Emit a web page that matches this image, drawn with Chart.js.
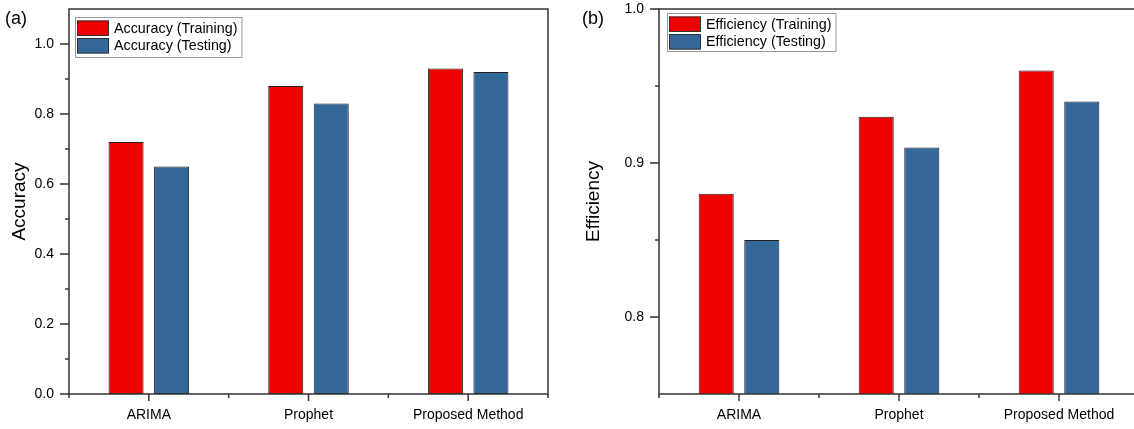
<!DOCTYPE html>
<html>
<head>
<meta charset="utf-8">
<script src="https://cdn.jsdelivr.net/npm/chart.js@4"></script>
<style>
  html, body { margin: 0; padding: 0; background: #fff; overflow: hidden; }
  #wrap { position: relative; width: 1134px; height: 429px; overflow: hidden; }
  canvas { position: absolute; top: 0; }
  #chartA { left: 0; }
  #chartB { left: 567px; }
</style>
</head>
<body>
<div id="wrap">
  <canvas id="chartA" width="567" height="429"></canvas>
  <canvas id="chartB" width="580" height="429"></canvas>
</div>
<script>
var categories = ['ARIMA', 'Prophet', 'Proposed Method'];

var accuracyTraining = [0.72, 0.88, 0.93];
var accuracyTesting = [0.65, 0.83, 0.92];
var efficiencyTraining = [0.88, 0.93, 0.96];
var efficiencyTesting = [0.85, 0.91, 0.94];

var accuracyTicks = [0.0, 0.2, 0.4, 0.6, 0.8, 1.0];
var accuracyMinor = [0.1, 0.3, 0.5, 0.7, 0.9];
var efficiencyTicks = [0.8, 0.9, 1.0];
var efficiencyMinor = [0.85, 0.95];

var RED = '#ee0000';
var BLUE = '#336699';
var FONT = '"Liberation Sans", Arial, sans-serif';

Chart.defaults.font.family = FONT;
Chart.defaults.color = '#000';

// axes frame, tick marks, panel letter and in-plot legend
var framePlugin = {
  id: 'frame',
  afterDraw: function(chart, args, opts) {
    var ctx = chart.ctx, a = chart.chartArea;
    var xs = chart.scales.x, ys = chart.scales.y;
    ctx.save();
    ctx.strokeStyle = '#333';
    ctx.lineWidth = 1.5;
    ctx.strokeRect(a.left, a.top, a.right - a.left, a.bottom - a.top);

    ctx.beginPath();
    opts.major.forEach(function(v) {
      var p = ys.getPixelForValue(v);
      ctx.moveTo(a.left - 9, p); ctx.lineTo(a.left, p);
    });
    opts.minor.forEach(function(v) {
      var p = ys.getPixelForValue(v);
      ctx.moveTo(a.left - 4, p); ctx.lineTo(a.left, p);
    });
    for (var i = 0; i < categories.length; i++) {
      var c = xs.getPixelForValue(i);
      ctx.moveTo(c, a.bottom); ctx.lineTo(c, a.bottom + 7);
    }
    for (var j = 0; j <= categories.length; j++) {
      var b = xs.getPixelForValue(j - 0.5);
      ctx.moveTo(b, a.bottom); ctx.lineTo(b, a.bottom + 4);
    }
    ctx.stroke();

    // panel letter
    ctx.fillStyle = '#000';
    ctx.font = '18px ' + FONT;
    ctx.textBaseline = 'alphabetic';
    ctx.textAlign = 'left';
    ctx.fillText(opts.letter, opts.letterX, 24);

    // legend
    var lg = opts.legend;
    ctx.font = '14.3px ' + FONT;
    var tw = 0;
    chart.data.datasets.forEach(function(ds) {
      tw = Math.max(tw, ctx.measureText(ds.label).width);
    });
    var w = 39 + tw + 4;
    ctx.strokeStyle = '#999';
    ctx.lineWidth = 1;
    ctx.strokeRect(lg.x + 0.5, lg.y + 0.5, w, lg.h);
    ctx.textBaseline = 'middle';
    chart.data.datasets.forEach(function(ds, k) {
      var ry = lg.y + 3.5 + k * 17.5;
      ctx.fillStyle = ds.backgroundColor;
      ctx.fillRect(lg.x + 2, ry, 32, 15.5);
      ctx.strokeStyle = '#333';
      ctx.strokeRect(lg.x + 2.5, ry + 0.5, 31, 14.5);
      ctx.fillStyle = '#000';
      ctx.fillText(ds.label, lg.x + 39, ry + 8.5);
    });
    ctx.restore();
  }
};

function makeChart(id, cfg) {
  return new Chart(document.getElementById(id), {
    type: 'bar',
    data: {
      labels: categories,
      datasets: [{
        label: cfg.trainLabel,
        data: cfg.train,
        backgroundColor: RED,
        borderColor: '#222',
        borderWidth: 1,
        borderSkipped: false,
        categoryPercentage: 0.57,
        barPercentage: 0.77
      }, {
        label: cfg.testLabel,
        data: cfg.test,
        backgroundColor: BLUE,
        borderColor: '#222',
        borderWidth: 1,
        borderSkipped: false,
        categoryPercentage: 0.57,
        barPercentage: 0.77
      }]
    },
    options: {
      responsive: false,
      animation: false,
      layout: { padding: { top: 9, right: cfg.padRight, bottom: 0, left: 0 } },
      plugins: {
        legend: { display: false },
        tooltip: { enabled: false },
        frame: {
          major: cfg.major,
          minor: cfg.minor,
          letter: cfg.letter,
          letterX: cfg.letterX,
          legend: cfg.legend
        }
      },
      scales: {
        x: {
          offset: true,
          grid: { display: false, drawTicks: false },
          border: { display: false },
          ticks: { font: { size: 14 }, padding: 13, autoSkip: false, maxRotation: 0 },
          afterFit: function(s) {
            s.height = 35;
            s.paddingLeft = 0; s.paddingRight = 0;
          }
        },
        y: {
          min: cfg.yMin,
          max: cfg.yMax,
          grid: { display: false, drawTicks: false },
          border: { display: false },
          ticks: {
            font: { size: 14 },
            padding: 15,
            callback: function(v) { return Number(v).toFixed(1); }
          },
          afterBuildTicks: function(s) {
            s.ticks = cfg.major.map(function(v) { return { value: v }; });
          },
          title: {
            display: true,
            text: cfg.title,
            font: { size: 19 },
            padding: { top: cfg.titlePad, bottom: 0 }
          },
          afterFit: function(s) {
            s.width = cfg.yWidth;
            s.paddingTop = 0; s.paddingBottom = 0;
          }
        }
      }
    },
    plugins: [framePlugin]
  });
}

makeChart('chartA', {
  trainLabel: 'Accuracy (Training)',
  testLabel: 'Accuracy (Testing)',
  train: accuracyTraining,
  test: accuracyTesting,
  yMin: 0,
  yMax: 1.1,
  major: accuracyTicks,
  minor: accuracyMinor,
  title: 'Accuracy',
  titlePad: 8,
  yWidth: 69,
  padRight: 19,
  letter: '(a)',
  letterX: 5,
  legend: { x: 75, y: 17, h: 40 }
});

makeChart('chartB', {
  trainLabel: 'Efficiency (Training)',
  testLabel: 'Efficiency (Testing)',
  train: efficiencyTraining,
  test: efficiencyTesting,
  yMin: 0.75,
  yMax: 1.0,
  major: efficiencyTicks,
  minor: efficiencyMinor,
  title: 'Efficiency',
  titlePad: 15,
  yWidth: 92,
  padRight: 8,
  letter: '(b)',
  letterX: 15,
  legend: { x: 100, y: 13, h: 38 }
});
</script>
</body>
</html>
